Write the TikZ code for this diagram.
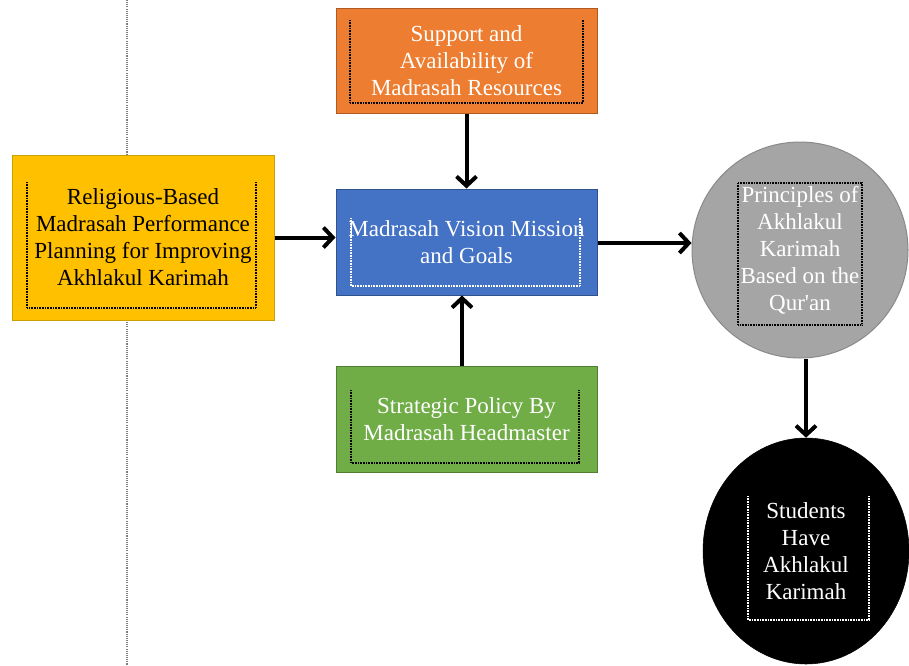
\documentclass[tikz,border=0pt]{standalone}
\usepackage{fontspec}
\setmainfont{Liberation Serif}
\usetikzlibrary{arrows.meta,shapes.geometric}
\definecolor{cYel}{HTML}{FFC000}
\definecolor{cYelD}{HTML}{C9A000}
\definecolor{cOra}{HTML}{ED7D31}
\definecolor{cOraD}{HTML}{AE5A21}
\definecolor{cBlu}{HTML}{4472C4}
\definecolor{cBluD}{HTML}{2F528F}
\definecolor{cGre}{HTML}{70AD47}
\definecolor{cGreD}{HTML}{507E32}
\definecolor{cGry}{HTML}{A5A5A5}
\definecolor{cGryD}{HTML}{8A8A8A}
\begin{document}
\begin{tikzpicture}[x=0.75pt,y=-0.75pt,
  txt/.style={font=\fontsize{17.25}{20.25}\selectfont, align=center},
  boxnode/.style={rectangle, line width=0.75pt, inner sep=0pt, txt},
  innerdots/.style={draw=#1, line width=0.8pt, dash pattern=on 0.6pt off 0.6pt},
  flow/.style={line width=3pt, -{Straight Barb[length=7pt,width=15pt,line width=3pt]}}
]
\useasboundingbox (0,0) rectangle (909,665);
\clip (0,0) rectangle (909,665);

% vertical dotted divider
\coordinate (divtop) at (127,0);
\coordinate (divbot) at (127,665);
\draw[gray, line width=0.9pt, dash pattern=on 0.8pt off 0.8pt] (divtop) -- (divbot);

% boxes
\node[boxnode, fill=cYel, draw=cYelD, minimum width=196.5pt, minimum height=123.75pt, text=black]
  (plan) at (143,237.5) {Religious-Based\\Madrasah Performance\\Planning for Improving\\Akhlakul Karimah};
\node[boxnode, fill=cOra, draw=cOraD, minimum width=195.75pt, minimum height=78.75pt, text=white]
  (res) at (466.5,60.5) {Support and\\Availability of\\Madrasah Resources};
\node[boxnode, fill=cBlu, draw=cBluD, minimum width=195.75pt, minimum height=79.5pt, text=white]
  (vision) at (466.5,242) {Madrasah Vision Mission\\and Goals};
\node[boxnode, fill=cGre, draw=cGreD, minimum width=195.75pt, minimum height=79.5pt, text=white]
  (pol) at (466.5,419) {Strategic Policy By\\Madrasah Headmaster};
\node[circle, fill=cGry, draw=cGryD, line width=0.75pt, minimum size=162pt, inner sep=0pt, txt, text=white]
  (prin) at (800,250) {Principles of\\Akhlakul\\Karimah\\Based on the\\Qur\textquotesingle an};
\node[ellipse, fill=black, draw=black, minimum width=154.5pt, minimum height=169.5pt, inner sep=0pt, txt, text=white]
  (stud) at (806,551) {Students\\Have\\Akhlakul\\Karimah};

% inner dotted frames (open at the top, except the grey one)
\draw[innerdots=black] (27,182) -- (27,308) -- (256,308) -- (256,182);
\draw[innerdots=black] (350,20) -- (350,103) -- (583,103) -- (583,20);
\draw[innerdots=white] (351,218) -- (351,286) -- (580,286) -- (580,218);
\draw[innerdots=black] (351,390) -- (351,463) -- (579,463) -- (579,390);
\draw[innerdots=black] (738,183) rectangle (862,325);
\draw[innerdots=white] (748,496) -- (748,620) -- (869,620) -- (869,496);

% connectors
\draw[flow] (plan.east) -- (plan.east -| vision.west);
\draw[flow] (res.south) -- (res.south |- vision.north);
\draw[flow] (pol.north -| 462,0) -- (vision.south -| 462,0);
\draw[flow] ([yshift=-0.75pt]vision.east) -- ([yshift=-0.75pt]vision.east -| prin.west);
\draw[flow] (stud.north |- prin.south) -- (stud.north);
\end{tikzpicture}
\end{document}
